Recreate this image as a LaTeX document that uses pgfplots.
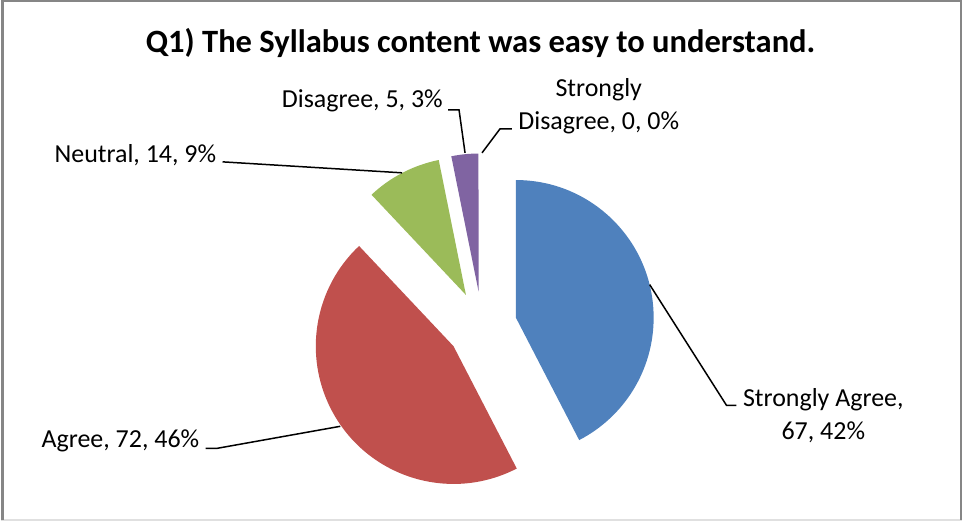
\documentclass[border=0pt]{standalone}
\usepackage{pgfplots}
\pgfplotsset{compat=1.18}
\usepackage{fontspec}
\setmainfont{Carlito}
\usetikzlibrary{calc}

\definecolor{saBlue}{HTML}{4F81BD}
\definecolor{agRed}{HTML}{C0504D}
\definecolor{neGreen}{HTML}{9BBB59}
\definecolor{diPurple}{HTML}{8064A2}
\definecolor{frameGray}{HTML}{868686}

\begin{document}
\begin{tikzpicture}
	% counts: Strongly Agree, Agree, Neutral, Disagree, Strongly Disagree
	\def\nSA{67}
	\def\nAG{72}
	\def\nNE{14}
	\def\nDI{5}
	\def\nSD{0}
	\pgfmathsetmacro\total{\nSA+\nAG+\nNE+\nDI+\nSD}
	% slice boundaries, clockwise from 12 o'clock
	\pgfmathsetmacro\aA{90}
	\pgfmathsetmacro\aB{\aA-\nSA/\total*360}
	\pgfmathsetmacro\aC{\aB-\nAG/\total*360}
	\pgfmathsetmacro\aD{\aC-\nNE/\total*360}
	\pgfmathsetmacro\aE{\aD-\nDI/\total*360}
	\def\rad{69pt}
	\def\expl{17.5pt}
	\begin{axis}[
			x=0.5pt,
			y=0.5pt,
			xmin=0,
			xmax=963,
			ymin=0,
			ymax=521,
			hide axis,
			clip=false
		]
		\path (axis cs:0,0) rectangle (axis cs:963,521);
		\draw[black!12, line width=1pt] (axis cs:0,0.5) -- (axis cs:963,0.5);
		\draw[frameGray, line width=1.2pt] (axis cs:1.5,0) -- (axis cs:1.5,520)
			-- (axis cs:962,520) -- (axis cs:962,0);

		% slices
		\fill[saBlue] ($(axis cs:482,194.5)+({(\aA+\aB)/2}:\expl)$) -- ++(\aA:\rad)
			arc[start angle=\aA, end angle=\aB, radius=\rad] -- cycle;
		\fill[agRed] ($(axis cs:482,194.5)+({(\aB+\aC)/2}:\expl)$) -- ++(\aB:\rad)
			arc[start angle=\aB, end angle=\aC, radius=\rad] -- cycle;
		\fill[neGreen] ($(axis cs:482,194.5)+({(\aC+\aD)/2}:\expl)$) -- ++(\aC:\rad)
			arc[start angle=\aC, end angle=\aD, radius=\rad] -- cycle;
		\fill[diPurple] ($(axis cs:482,194.5)+({(\aD+\aE)/2}:\expl)$) -- ++(\aD:\rad)
			arc[start angle=\aD, end angle=\aE, radius=\rad] -- cycle;

		% title
		\node[font=\fontsize{16.3}{19}\selectfont\bfseries] at (axis cs:480.5,478)
			{Q1) The Syllabus content was easy to understand.};

		% data labels
		\begin{scope}[font=\fontsize{13}{16.5}\selectfont, inner sep=0pt]
			\node[anchor=east] at (axis cs:443,420) {Disagree, \nDI, 3\%};
			\node[align=center] at (axis cs:599,414.5) {Strongly\\Disagree, \nSD, 0\%};
			\node[anchor=east] at (axis cs:216,366) {Neutral, \nNE, 9\%};
			\node[anchor=east] at (axis cs:199,79) {Agree, \nAG, 46\%};
			\node[align=center] at (axis cs:824,105) {Strongly Agree,\\\nSA, 42\%};
		\end{scope}

		% leader lines
		\begin{scope}[black, line width=0.75pt]
			\draw (axis cs:448,411) -- (axis cs:459,411) -- (axis cs:465,368);
			\draw (axis cs:482,368) -- (axis cs:500,392) -- (axis cs:512,392);
			\draw (axis cs:222,359) -- (axis cs:402,348);
			\draw (axis cs:205,72) -- (axis cs:217,72) -- (axis cs:340,94);
			\draw (axis cs:650,236) -- (axis cs:727,115) -- (axis cs:737,115);
		\end{scope}
	\end{axis}
\end{tikzpicture}
\end{document}
